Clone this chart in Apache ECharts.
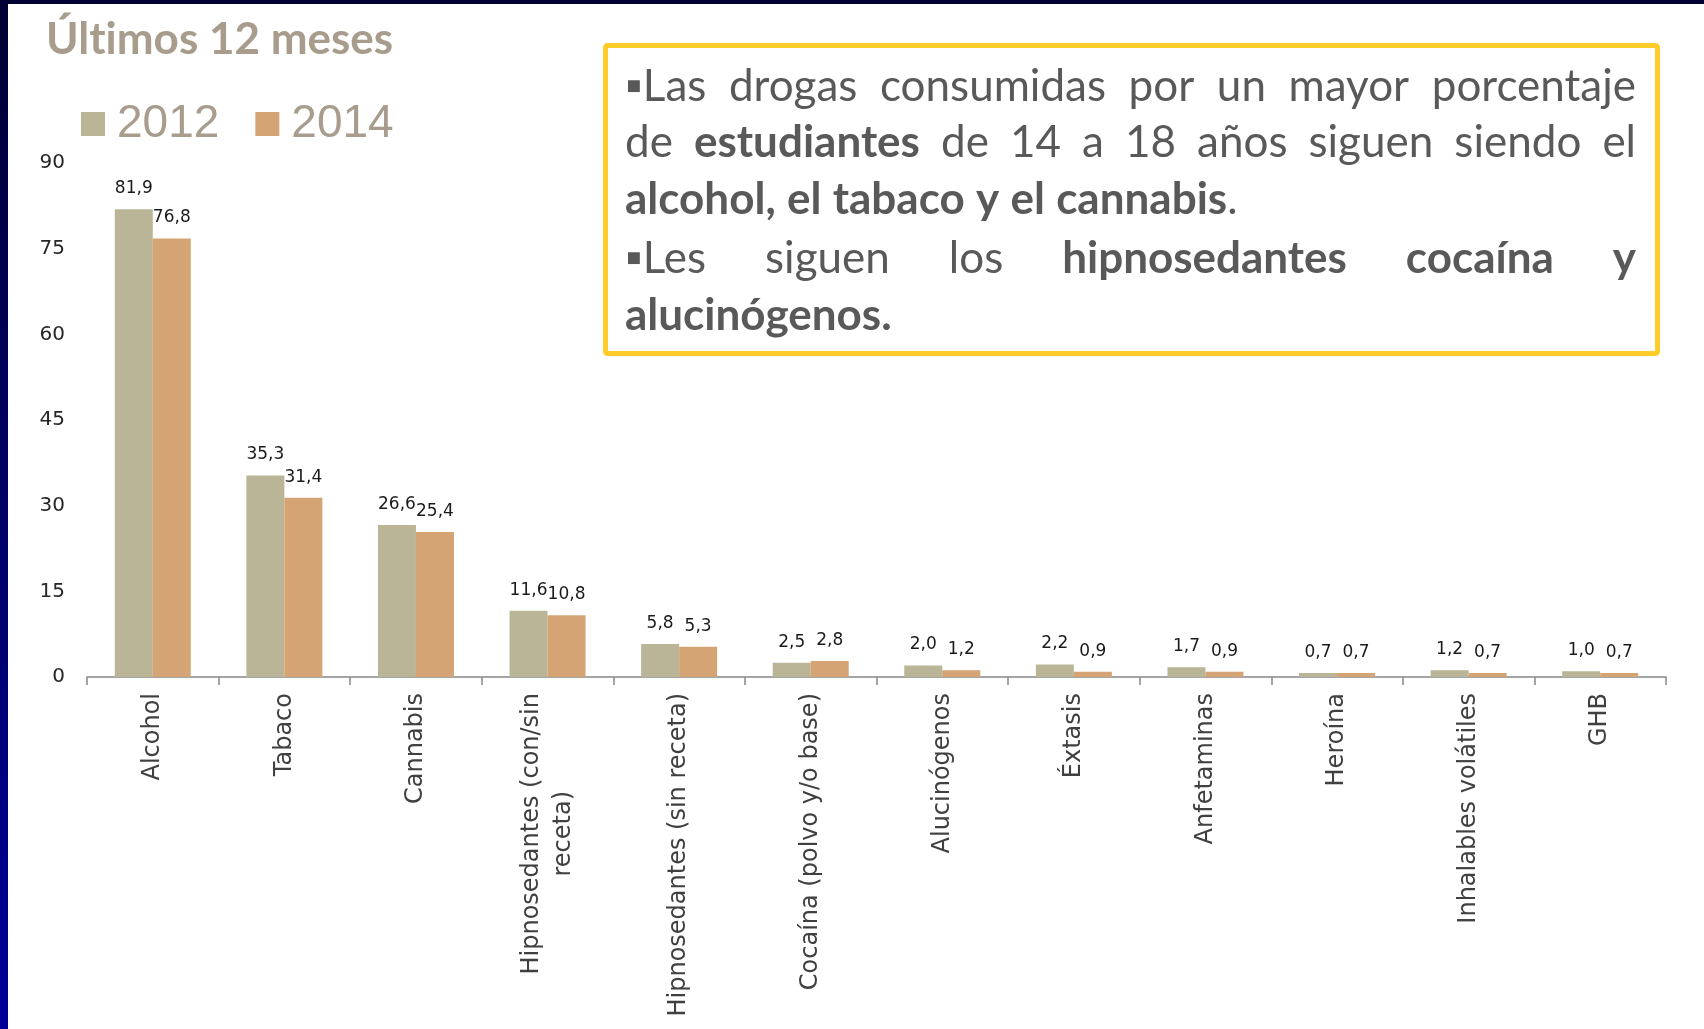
<!DOCTYPE html>
<html>
<head>
<meta charset="utf-8">
<script src="https://cdn.jsdelivr.net/npm/echarts@6/dist/echarts.min.js"></script>
<style>
html,body{margin:0;padding:0;background:#fff;}
#chart{width:1704px;height:1029px;}
</style>
</head>
<body>
<div id="chart"></div>
<script>
// ---- data ----
var categories = ['Alcohol','Tabaco','Cannabis','Hipnosedantes (con/sin receta)','Hipnosedantes (sin receta)','Cocaína (polvo y/o base)','Alucinógenos','Éxtasis','Anfetaminas','Heroína','Inhalables volátiles','GHB'];
var values2012 = [81.9,35.3,26.6,11.6,5.8,2.5,2.0,2.2,1.7,0.7,1.2,1.0];
var values2014 = [76.8,31.4,25.4,10.8,5.3,2.8,1.2,0.9,0.9,0.7,0.7,0.7];
var seriesNames = ['2012','2014'];
var titleText = 'Últimos 12 meses';
// box text: lines of [text, bold, noSpaceBefore]; justify flag
var boxLines = [
  {justify:true, words:[['▪Las',0],['drogas',0],['consumidas',0],['por',0],['un',0],['mayor',0],['porcentaje',0]]},
  {justify:true, words:[['de',0],['estudiantes',1],['de',0],['14',0],['a',0],['18',0],['años',0],['siguen',0],['siendo',0],['el',0]]},
  {justify:false, words:[['alcohol,',1],['el',1],['tabaco',1],['y',1],['el',1],['cannabis',1],['.',0,true]]},
  {justify:true, words:[['▪Les',0],['siguen',0],['los',0],['hipnosedantes',1],['cocaína',1],['y',1]]},
  {justify:false, words:[['alucinógenos.',1]]}
];

var chart = echarts.init(document.getElementById('chart'));

// text measurement for the justified box
var cv = document.createElement('canvas').getContext('2d');
var boxFont = 'Lato, "DejaVu Sans"';
var boxSize = 44;
function fontStr(bold){ return (bold ? 'bold ' : '') + boxSize + 'px ' + boxFont; }
function measure(t, bold){
  cv.font = fontStr(bold);
  return cv.measureText(t).width;
}
var textLeft = 625, textRight = 1636;
var lineY = [87, 143, 200, 259, 316];
var graphics = [];
// background border strips
graphics.push({type:'rect', left:0, top:0, shape:{width:1704,height:4}, style:{fill:'#000033'}, silent:true});
graphics.push({type:'rect', left:0, top:0, shape:{width:8,height:1029}, style:{fill:new echarts.graphic.LinearGradient(0,0,0,1,[{offset:0,color:'#000033'},{offset:1,color:'#000099'}])}, silent:true});
// title (ZWNJ avoids the t-i ligature)
graphics.push({type:'text', x:46, y:40, style:{text:titleText.replace('ti','t\u200Ci'), font:'bold 44px Lato', fill:'#a89c8c', verticalAlign:'middle'}});
// box
graphics.push({type:'rect', shape:{x:605.5,y:45.5,width:1052,height:308,r:2}, style:{fill:'#fff', stroke:'#ffcc29', lineWidth:5}});
boxLines.forEach(function(line, li){
  var widths = line.words.map(function(w){return measure(w[0], w[1]);});
  var total = widths.reduce(function(a,b){return a+b;},0);
  var space = measure(' ', 0);
  var gap = line.justify ? (textRight - textLeft - total) / (line.words.length - 1) : space;
  var x = textLeft;
  line.words.forEach(function(w, i){
    if (i > 0 && !w[2]) x += gap;
    graphics.push({type:'text', x:x, y:lineY[li], style:{text:w[0], font:fontStr(w[1]), fill:'#595959', verticalAlign:'middle'}});
    x += widths[i];
  });
});

function fmt(p){ return p.value.toFixed(1).replace('.', ','); }

var labelStyle = {show:true, position:'top', distance:12, formatter:fmt, fontFamily:'DejaVu Sans', fontSize:17, color:'#1a1a1a'};

var option = {
  animation:false,
  backgroundColor:'#ffffff',
  legend:{
    data:seriesNames, left:81, top:99, padding:0, itemWidth:24, itemHeight:24, itemGap:36, icon:'rect',
    textStyle:{fontFamily:'Liberation Sans', fontSize:46, color:'#a89c8c', lineHeight:50, padding:[0,0,0,7]}
  },
  grid:{left:87, right:38, top:163, bottom:352, containLabel:false},
  xAxis:{
    type:'category', data:categories,
    axisLine:{lineStyle:{color:'#888888', width:1.5}},
    axisTick:{show:true, length:8, lineStyle:{color:'#888888', width:1.5}},
    axisLabel:{
      rotate:90, interval:0, margin:16, fontFamily:'DejaVu Sans', fontSize:24, color:'#404040',
      formatter:function(v){
        if (v === 'Hipnosedantes (con/sin receta)') return '{c|Hipnosedantes (con/sin}\n{c|receta)}';
        return v;
      },
      rich:{c:{align:'center', fontFamily:'DejaVu Sans', fontSize:24, color:'#404040', lineHeight:32}}
    }
  },
  yAxis:{
    type:'value', min:0, max:90, interval:15,
    axisLine:{show:false}, axisTick:{show:false}, splitLine:{show:false},
    axisLabel:{margin:22, fontFamily:'DejaVu Sans', fontSize:20, color:'#262626'}
  },
  series:[
    {name:seriesNames[0], type:'bar', data:values2012, barWidth:38, barGap:'0%', itemStyle:{color:'#b9b596'}, label:labelStyle},
    {name:seriesNames[1], type:'bar', data:values2014, barWidth:38, barGap:'0%', itemStyle:{color:'#d4a474'}, label:labelStyle}
  ],
  graphic:graphics
};
chart.setOption(option);
</script>
</body>
</html>
